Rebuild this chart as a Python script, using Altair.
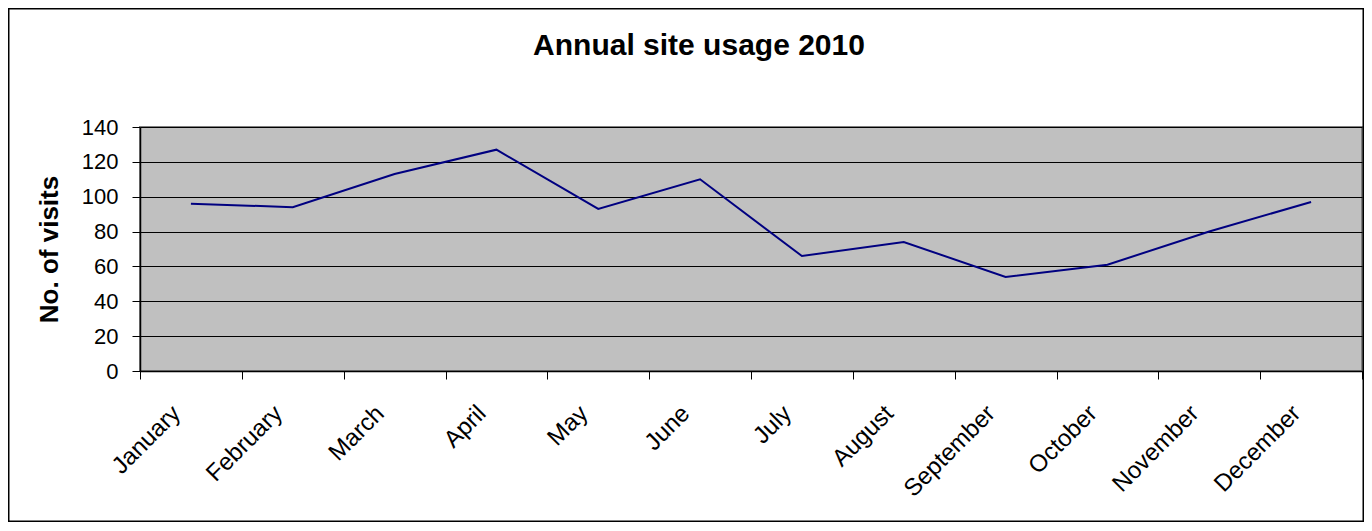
import altair as alt
import pandas as pd

months = ["January", "February", "March", "April", "May", "June",
          "July", "August", "September", "October", "November", "December"]
visits = [96, 94, 113, 127, 93, 110, 66, 74, 54, 61, 80, 97]

df = pd.DataFrame({"Month": months, "Visits": visits})

W = 1222
H = 244
PAD_L, PAD_T, PAD_R, PAD_B = 132, 119, 2, 151
FONT = "Liberation Sans"

line = alt.Chart(df).mark_line(color="#000080", strokeWidth=2).encode(
    x=alt.X(
        "Month:N",
        sort=months,
        bandPosition=0.5,
        scale=alt.Scale(type="band", paddingInner=0, paddingOuter=0),
        axis=alt.Axis(
            title=None,
            labelAngle=-45,
            labelAlign="right",
            labelBaseline="top",
            labelFontSize=24,
            labelFont=FONT,
            labelColor="black",
            labelPadding=22,
            labelOffset=-23,
            tickBand="extent",
            tickSize=8,
            tickColor="black",
            domainColor="black",
            domainWidth=1.5,
            grid=False,
        ),
    ),
    y=alt.Y(
        "Visits:Q",
        scale=alt.Scale(domain=[0, 140], nice=False),
        axis=alt.Axis(
            title="No. of visits",
            titleFont=FONT,
            titleFontSize=26,
            titleFontWeight="bold",
            titleColor="black",
            titleX=-83,
            titleBaseline="alphabetic",
            values=[0, 20, 40, 60, 80, 100, 120, 140],
            labelFontSize=22,
            labelFont=FONT,
            labelColor="black",
            labelPadding=14,
            tickSize=8,
            tickColor="black",
            domainColor="black",
            domainWidth=1.5,
            grid=True,
            gridColor="black",
            gridWidth=1.2,
        ),
    ),
)

frame = alt.Chart(pd.DataFrame({"a": [0]})).mark_rect(
    fillOpacity=0, stroke="black", strokeWidth=1.5
).encode(
    x=alt.value(-PAD_L + 0.75),
    x2=alt.value(W + PAD_R - 0.75),
    y=alt.value(-PAD_T + 0.75),
    y2=alt.value(H + PAD_B - 0.75),
)

chart = alt.layer(line, frame).properties(
    width=W,
    height=H,
    autosize=alt.AutoSizeParams(type="none"),
    padding={"left": PAD_L, "top": PAD_T, "right": PAD_R, "bottom": PAD_B},
    title=alt.TitleParams(
        "Annual site usage 2010",
        font=FONT,
        fontSize=30,
        fontWeight="bold",
        color="black",
        anchor="middle",
        dx=-52,
        baseline="alphabetic",
        offset=-77,
    ),
).configure_view(
    fill="#C0C0C0", stroke="#808080", strokeWidth=2
)

chart.save("out.html", embed_options={"renderer": "svg", "actions": False})
